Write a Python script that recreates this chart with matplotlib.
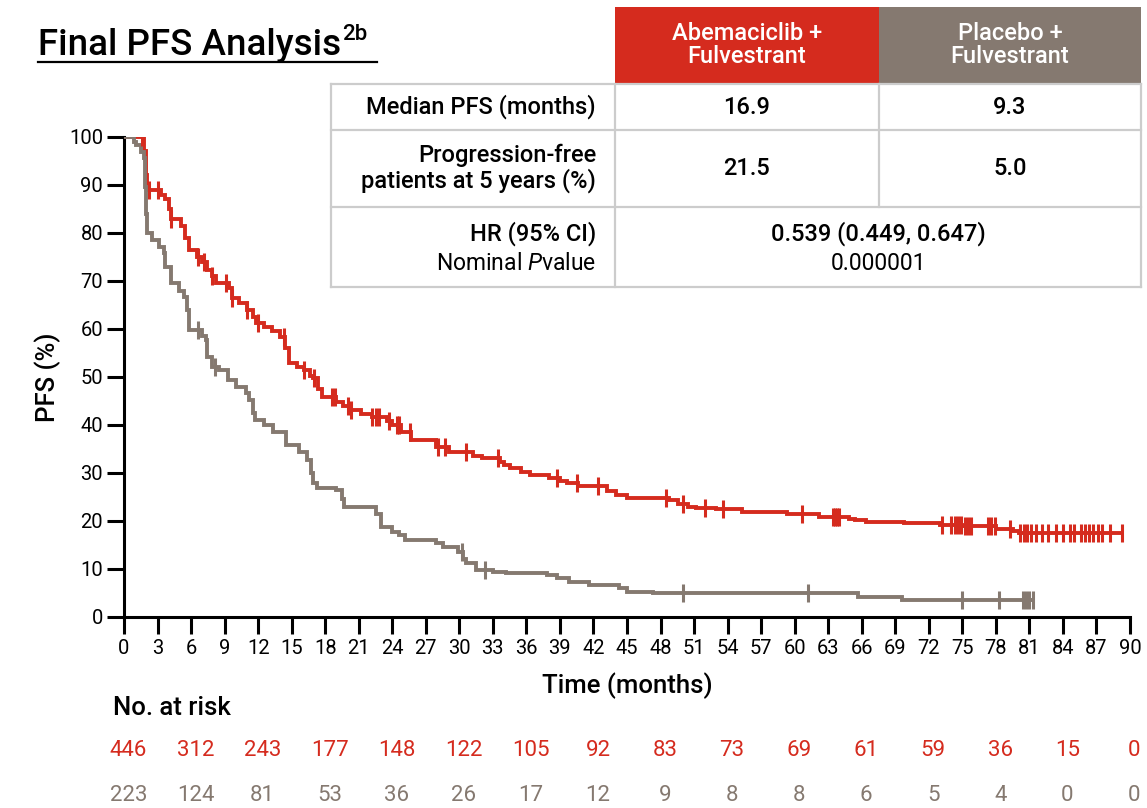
import numpy as np
import matplotlib
matplotlib.use("Agg")
import matplotlib.pyplot as plt
from matplotlib.patches import Rectangle
from matplotlib.lines import Line2D

plt.rcParams['font.family'] = ['Roboto', 'DejaVu Sans']
plt.rcParams['mathtext.fontset'] = 'custom'
plt.rcParams['mathtext.rm'] = 'Roboto'
plt.rcParams['mathtext.it'] = 'Roboto:italic'

RED = "#D52B1E"
GRAY = "#857970"
GRID = "#CCCCCC"

# Kaplan-Meier steps: (time in months, PFS %) after each drop
abema_t = [0, 1.8, 2.0, 2.1, 3.3, 3.7, 4.0, 4.2, 5.1, 5.5, 5.8, 6.5, 7.0, 7.4, 7.9, 8.2,
           9.4, 9.7, 10.3, 11.0, 11.5, 11.8, 12.5, 13.2, 14.0, 14.4, 14.8, 15.5, 16.1,
           16.6, 16.9, 17.4, 17.7, 19.0, 19.6, 20.1, 21.2, 22.2, 23.5, 24.0, 24.8, 25.7,
           27.9, 29.1, 31.2, 32.0, 33.6, 34.0, 34.5, 35.5, 36.3, 38.0, 39.0, 39.6, 40.6,
           43.2, 44.0, 45.0, 48.8, 49.6, 50.5, 51.2, 53.0, 55.3, 59.3, 62.2, 64.9, 65.4,
           66.4, 69.8, 73.0, 75.0, 78.0, 79.5, 80.1, 89.3]
abema_s = [100, 97, 92, 89, 88, 87, 85, 83, 81.5, 79, 76.5, 75, 74, 72.3, 71, 69.6,
           68.5, 66.5, 65.5, 64, 62.5, 61.3, 60.5, 59.5, 58.4, 56, 53, 52, 51.5,
           50.3, 49.8, 47.5, 45.8, 44.8, 44, 43.1, 42.3, 41.7, 40.8, 40, 38.5, 36.9,
           35.4, 34.4, 33.6, 33.1, 32.3, 31.6, 31.0, 30.3, 29.6, 29.0, 28.3, 27.9, 27.3,
           26.3, 25.4, 24.8, 24.3, 23.6, 23.0, 22.8, 22.5, 21.9, 21.5, 20.9, 20.5, 20.2,
           19.8, 19.5, 19.2, 18.9, 18.3, 17.9, 17.5, 17.5]
abema_cens = [1.6, 2.2, 3.0, 4.2, 6.6, 7.2, 7.9, 9.1, 9.7, 11.0, 12.0, 14.3, 16.1, 17.0,
              18.6, 18.9, 20.0, 20.3, 22.2, 22.5, 22.8, 23.7, 24.4, 24.6, 25.6, 28.1,
              28.7, 30.6, 33.5, 38.7, 40.5, 42.4, 48.5, 50.0, 52.0, 53.6, 60.7, 63.4,
              63.6, 63.8, 64.0, 73.2, 74.0, 74.3, 74.6, 74.9, 75.2, 75.5, 75.8, 77.3,
              77.6, 77.9, 79.3, 80.2, 80.5, 80.8, 81.1, 81.6, 82.1, 82.7, 83.4, 84.0,
              84.6, 85.0, 85.6, 86.0, 86.3, 86.7, 87.1, 87.5, 88.2, 89.3]

placebo_t = [0, 0.9, 1.1, 1.5, 1.8, 1.9, 2.0, 2.1, 2.5, 3.1, 3.6, 3.7, 4.2, 4.9, 5.4,
             5.6, 5.8, 7.0, 7.3, 7.4, 7.9, 8.5, 9.3, 10.0, 10.9, 11.2, 11.5, 11.7, 12.5,
             13.3, 14.5, 15.7, 16.4, 16.7, 16.9, 17.3, 19.0, 19.5, 19.7, 22.5, 23.0,
             24.0, 24.6, 25.1, 27.9, 28.5, 29.9, 30.3, 30.6, 31.5, 33.0, 34.2, 37.8,
             38.7, 39.8, 41.6, 44.3, 45.0, 47.3, 65.7, 69.6, 81.3]
placebo_s = [100, 99, 98.3, 96.9, 95.6, 89.6, 84, 80, 78.5, 77, 75.8, 73, 69.6, 68, 66.7,
             64, 59.8, 58.5, 57.7, 54.2, 52.1, 51.5, 49.4, 47.9, 46.7, 45.2, 42.5, 41, 40,
             38.5, 35.8, 34.4, 32.7, 30, 27.9, 26.8, 26.5, 24.5, 22.9, 21.5, 18.75,
             17.7, 17.1, 16.0, 15.4, 14.6, 13.5, 12.0, 11.2, 9.8, 9.4, 9.2, 8.75,
             8.1, 7.3, 6.7, 6.0, 5.2, 5.0, 4.2, 3.5, 3.5]
placebo_cens = [6.6, 8.1, 30.2, 32.3, 50.0, 61.2, 75.0, 78.3, 80.4, 80.7, 81.0, 81.3]

# Numbers at risk every 6 months
risk_times = np.arange(0, 91, 6)
abema_risk = [446, 312, 243, 177, 148, 122, 105, 92, 83, 73, 69, 61, 59, 36, 15, 0]
placebo_risk = [223, 124, 81, 53, 36, 26, 17, 12, 9, 8, 8, 6, 5, 4, 0, 0]

row_labels = ["Median PFS (months)", "Progression-free\npatients at 5 years (%)"]
abema_vals = ["16.9", "21.5"]
placebo_vals = ["9.3", "5.0"]
hr_text = "0.539 (0.449, 0.647)"
p_text = "0.000001"


def surv_at(times, steps, surv):
    idx = np.searchsorted(steps, times, side="right") - 1
    return np.asarray(surv)[idx]


fig = plt.figure(figsize=(11.47, 8.08), dpi=100)
ax = fig.add_axes([124 / 1147, 1 - 617 / 808, (1130 - 124) / 1147, (617 - 137) / 808])

for t, s, cens, col in [(abema_t, abema_s, abema_cens, RED),
                        (placebo_t, placebo_s, placebo_cens, GRAY)]:
    ax.step(t, s, where="post", color=col, lw=2.8, solid_joinstyle="miter", zorder=3)
    ax.plot(cens, surv_at(cens, t, s), ls="none", marker="|", ms=13, mew=2.2,
            color=col, zorder=4)

ax.set_xlim(0, 90)
ax.set_ylim(0, 100)
ax.set_xticks(np.arange(0, 91, 3))
ax.set_yticks(np.arange(0, 101, 10))
ax.tick_params(axis="both", direction="out", length=12, width=2.2, labelsize=14.5,
               colors="black")
ax.tick_params(axis="x", pad=4)
ax.tick_params(axis="y", pad=3)
for side in ["top", "right"]:
    ax.spines[side].set_visible(False)
for side in ["left", "bottom"]:
    ax.spines[side].set_linewidth(2.2)
ax.set_xlabel("Time (months)", fontsize=18.5, fontweight="medium", labelpad=10)
ax.set_ylabel("PFS (%)", fontsize=18.5, fontweight="medium", labelpad=6)

# No. at risk table under the axis
xt = ax.get_xaxis_transform()
ax.text(-1.0, -0.19, "No. at risk", transform=xt, fontsize=18.5, fontweight="medium",
        ha="left", va="center")
for t, a, p in zip(risk_times, abema_risk, placebo_risk):
    ax.text(t + 0.4, -0.279, str(a), transform=xt, fontsize=16, color=RED,
            ha="center", va="center")
    ax.text(t + 0.4, -0.371, str(p), transform=xt, fontsize=16, color=GRAY,
            ha="center", va="center")

# Overlay in pixel coordinates for the title and summary table
ov = fig.add_axes([0, 0, 1, 1], zorder=5)
ov.set_xlim(0, 1147)
ov.set_ylim(808, 0)
ov.axis("off")

title = ov.text(38, 55, "Final PFS Analysis", fontsize=26.5, fontweight="medium",
                ha="left", va="baseline")
fig.canvas.draw()
bb = title.get_window_extent().transformed(ov.transData.inverted())
title_end = max(bb.x0, bb.x1)
ov.text(title_end + 1, 40, "2b", fontsize=16, fontweight="medium", ha="left",
        va="baseline")
ov.add_line(Line2D([38, 377], [62, 62], color="black", lw=1.6))

# header cells
ov.add_patch(Rectangle((615, 7), 264, 76, facecolor=RED, edgecolor="none"))
ov.add_patch(Rectangle((879, 7), 262, 76, facecolor=GRAY, edgecolor="none"))
ov.text(747, 45, "Abemaciclib +\nFulvestrant", color="white", fontsize=17,
        fontweight="medium", ha="center", va="center", linespacing=1.05)
ov.text(1010, 45, "Placebo +\nFulvestrant", color="white", fontsize=17,
        fontweight="medium", ha="center", va="center", linespacing=1.05)

# body grid
x0, x1, x2, x3 = 331, 615, 879, 1141
ys = [84, 130, 207, 287]
lw_grid = 1.6
for y in ys:
    ov.add_line(Line2D([x0, x3], [y, y], color=GRID, lw=lw_grid))
for x in [x0, x1, x3]:
    ov.add_line(Line2D([x, x], [ys[0], ys[-1]], color=GRID, lw=lw_grid))
ov.add_line(Line2D([x2, x2], [ys[0], ys[2]], color=GRID, lw=lw_grid))

for i, (lab, a, p) in enumerate(zip(row_labels, abema_vals, placebo_vals)):
    yc = (ys[i] + ys[i + 1]) / 2
    ov.text(596, yc, lab, fontsize=17, fontweight="medium", ha="right", va="center",
            linespacing=1.05)
    ov.text(747, yc, a, fontsize=17, fontweight="medium", ha="center", va="center")
    ov.text(1010, yc, p, fontsize=17, fontweight="medium", ha="center", va="center")

ov.text(596, 234, "HR (95% CI)", fontsize=17, fontweight="medium", ha="right",
        va="center")
ov.text(596, 263, r"Nominal $\mathit{P}$value", fontsize=16.5, ha="right", va="center")
ov.text(878, 234, hr_text, fontsize=17, fontweight="medium", ha="center", va="center")
ov.text(878, 263, p_text, fontsize=16.5, ha="center", va="center")

fig.savefig("out.png", dpi=100)
